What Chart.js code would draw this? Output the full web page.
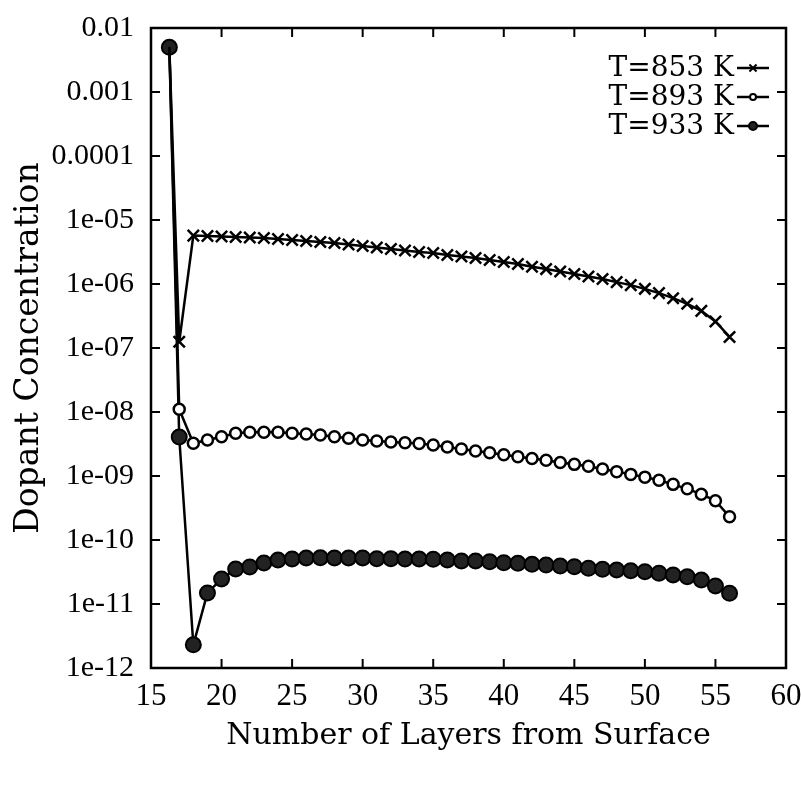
<!DOCTYPE html>
<html>
<head>
<meta charset="utf-8">
<script src="https://cdn.jsdelivr.net/npm/chart.js@4.4.0/dist/chart.umd.min.js"></script>
<style>
  html, body { margin: 0; padding: 0; background: #fff; }
</style>
</head>
<body>
<canvas id="dopant-chart" width="801" height="788"></canvas>
<script>
// layer number (x) shared by all three runs
var layers = [16.3, 17, 18, 19, 20, 21, 22, 23, 24, 25, 26, 27, 28, 29, 30, 31, 32, 33, 34, 35, 36,
              37, 38, 39, 40, 41, 42, 43, 44, 45, 46, 47, 48, 49, 50, 51, 52, 53, 54, 55, 56];

// dopant concentration
var conc853 = [5e-3, 1.25e-7, 5.7e-6, 5.62e-6, 5.52e-6, 5.42e-6, 5.33e-6, 5.23e-6, 5.05e-6, 4.87e-6, 4.70e-6,
               4.53e-6, 4.37e-6, 4.14e-6, 3.92e-6, 3.72e-6, 3.52e-6, 3.34e-6, 3.16e-6, 3.05e-6, 2.84e-6,
               2.69e-6, 2.55e-6, 2.37e-6, 2.21e-6, 2.05e-6, 1.86e-6, 1.71e-6, 1.57e-6, 1.43e-6, 1.31e-6,
               1.20e-6, 1.07e-6, 9.6e-7, 8.4e-7, 7.2e-7, 6.0e-7, 4.9e-7, 3.8e-7, 2.6e-7, 1.49e-7];
var conc893 = [5e-3, 1.10e-8, 3.24e-9, 3.65e-9, 4.11e-9, 4.64e-9, 4.82e-9, 4.82e-9, 4.82e-9, 4.64e-9, 4.53e-9,
               4.37e-9, 4.11e-9, 3.88e-9, 3.65e-9, 3.52e-9, 3.40e-9, 3.31e-9, 3.22e-9, 3.05e-9, 2.85e-9,
               2.65e-9, 2.45e-9, 2.30e-9, 2.15e-9, 2.00e-9, 1.88e-9, 1.76e-9, 1.62e-9, 1.52e-9, 1.42e-9,
               1.29e-9, 1.17e-9, 1.06e-9, 9.6e-10, 8.6e-10, 7.4e-10, 6.3e-10, 5.2e-10, 4.1e-10, 2.3e-10];
var conc933 = [5e-3, 4.07e-9, 2.3e-12, 1.49e-11, 2.46e-11, 3.52e-11, 3.79e-11, 4.37e-11, 4.87e-11, 5.05e-11, 5.23e-11,
               5.28e-11, 5.23e-11, 5.23e-11, 5.23e-11, 5.11e-11, 5.11e-11, 5.05e-11, 5.05e-11, 4.99e-11, 4.87e-11,
               4.70e-11, 4.70e-11, 4.58e-11, 4.42e-11, 4.32e-11, 4.17e-11, 4.06e-11, 3.92e-11, 3.83e-11, 3.61e-11,
               3.48e-11, 3.40e-11, 3.31e-11, 3.20e-11, 3.02e-11, 2.84e-11, 2.67e-11, 2.37e-11, 1.91e-11, 1.47e-11];

var seriesLabels = ['T=853 K', 'T=893 K', 'T=933 K'];

// axis ticks
var xTicks = [15, 20, 25, 30, 35, 40, 45, 50, 55, 60];
var yTicks = [1e-12, 1e-11, 1e-10, 1e-9, 1e-8, 1e-7, 1e-6, 1e-5, 1e-4, 1e-3, 1e-2];
var yTickLabels = ['1e-12', '1e-11', '1e-10', '1e-09', '1e-08', '1e-07', '1e-06', '1e-05', '0.0001', '0.001', '0.01'];

var SERIF = "'DejaVu Serif', 'Liberation Serif', serif";
var NARROW = "'Liberation Serif', serif";

function toPoints(ys) {
    return layers.map(function (x, i) { return {x: x, y: ys[i]}; });
}

// first point is shared, only the 933 K filled dot shows there
function hideFirst(r) {
    return function (c) { return c.dataIndex === 0 ? 0 : r; };
}

// box with inward tick marks on all four sides
var frameTicks = {
    id: 'frameTicks',
    afterDraw: function (chart) {
        var ctx = chart.ctx, a = chart.chartArea;
        var xs = chart.scales.x, ys = chart.scales.y;
        var len = 9;
        ctx.save();
        ctx.strokeStyle = '#000';
        ctx.lineWidth = 2.5;
        ctx.strokeRect(a.left, a.top, a.right - a.left, a.bottom - a.top);
        ctx.lineWidth = 2;
        ctx.beginPath();
        xTicks.slice(1, -1).forEach(function (v) {
            var px = xs.getPixelForValue(v);
            ctx.moveTo(px, a.bottom); ctx.lineTo(px, a.bottom - len);
            ctx.moveTo(px, a.top); ctx.lineTo(px, a.top + len);
        });
        yTicks.slice(1, -1).forEach(function (v) {
            var py = ys.getPixelForValue(v);
            ctx.moveTo(a.left, py); ctx.lineTo(a.left + len, py);
            ctx.moveTo(a.right, py); ctx.lineTo(a.right - len, py);
        });
        ctx.stroke();
        ctx.restore();
    }
};

// gnuplot style key: label then a line sample with its marker
var sideKey = {
    id: 'sideKey',
    afterDraw: function (chart) {
        var ctx = chart.ctx;
        var textRight = 734, lineFrom = 737, lineTo = 769;
        var rowY = [68, 97, 126];
        ctx.save();
        ctx.font = '28px ' + SERIF;
        ctx.textAlign = 'right';
        ctx.textBaseline = 'middle';
        chart.data.datasets.forEach(function (ds, i) {
            var y = rowY[i];
            ctx.fillStyle = '#000';
            ctx.fillText(ds.label, textRight, y + 1);
            ctx.strokeStyle = '#000';
            ctx.lineWidth = 2.5;
            ctx.beginPath();
            ctx.moveTo(lineFrom, y); ctx.lineTo(lineTo, y);
            ctx.stroke();
            ctx.fillStyle = ds.pointBackgroundColor;
            ctx.lineWidth = 2;
            Chart.helpers.drawPoint(ctx, {
                pointStyle: ds.pointStyle, radius: ds.keyRadius, rotation: 0, borderWidth: 2
            }, (lineFrom + lineTo) / 2, y);
        });
        ctx.restore();
    }
};

var chart = new Chart(document.getElementById('dopant-chart'), {
    type: 'scatter',
    data: {
        datasets: [
            {
                label: seriesLabels[0],
                data: toPoints(conc853),
                showLine: true,
                borderColor: '#000',
                borderWidth: 2.5,
                pointStyle: 'crossRot',
                pointRadius: hideFirst(8),
                pointBorderWidth: 2.5,
                pointBorderColor: '#000',
                pointBackgroundColor: '#000',
                keyRadius: 5
            },
            {
                label: seriesLabels[1],
                data: toPoints(conc893),
                showLine: true,
                borderColor: '#000',
                borderWidth: 2.5,
                pointStyle: 'circle',
                pointRadius: hideFirst(5.5),
                pointBorderWidth: 2.5,
                pointBorderColor: '#000',
                pointBackgroundColor: '#fff',
                keyRadius: 3
            },
            {
                label: seriesLabels[2],
                data: toPoints(conc933),
                showLine: true,
                borderColor: '#000',
                borderWidth: 2.5,
                pointStyle: 'circle',
                pointRadius: 7.5,
                pointBorderWidth: 2,
                pointBorderColor: '#000',
                pointBackgroundColor: '#222',
                keyRadius: 4
            }
        ]
    },
    options: {
        responsive: false,
        animation: false,
        devicePixelRatio: 1,
        layout: { padding: { top: 28, right: 15, left: 0, bottom: 0 } },
        plugins: {
            legend: { display: false },
            tooltip: { enabled: false }
        },
        scales: {
            x: {
                type: 'linear',
                min: 15,
                max: 60,
                grid: { display: false },
                border: { display: false },
                afterBuildTicks: function (scale) {
                    scale.ticks = xTicks.map(function (v) { return {value: v}; });
                },
                afterFit: function (scale) {
                    scale.height = 120;
                    scale.paddingLeft = 0;
                    scale.paddingRight = 0;
                },
                ticks: {
                    color: '#000',
                    padding: 2,
                    maxRotation: 0,
                    font: { family: NARROW, size: 31 }
                },
                title: {
                    display: true,
                    text: 'Number of Layers from Surface',
                    color: '#000',
                    font: { family: SERIF, size: 30 },
                    padding: { top: 0, bottom: 34 }
                }
            },
            y: {
                type: 'logarithmic',
                min: 1e-12,
                max: 1e-2,
                grid: { display: false },
                border: { display: false },
                afterBuildTicks: function (scale) {
                    scale.ticks = yTicks.map(function (v) { return {value: v}; });
                },
                afterFit: function (scale) {
                    scale.width = 151;
                    scale.paddingTop = 0;
                    scale.paddingBottom = 0;
                },
                ticks: {
                    color: '#000',
                    padding: 9,
                    font: { family: NARROW, size: 30 },
                    callback: function (v) {
                        return yTickLabels[Math.round(Math.log10(v)) + 12];
                    }
                },
                title: {
                    display: true,
                    text: 'Dopant Concentration',
                    color: '#000',
                    font: { family: SERIF, size: 33 },
                    padding: { top: 10, bottom: 0 }
                }
            }
        }
    },
    plugins: [frameTicks, sideKey]
});
</script>
</body>
</html>
